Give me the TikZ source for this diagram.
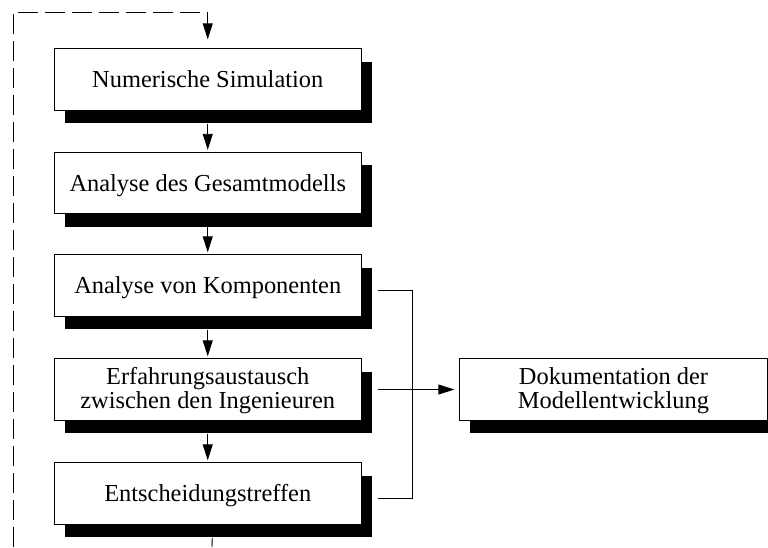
\documentclass[tikz,border=0pt]{standalone}
\usepackage{fontspec}
\setmainfont{Liberation Serif}
\usetikzlibrary{arrows.meta,shadows,calc}

\begin{document}
\begin{tikzpicture}[x=1pt,y=-1pt,
  box/.style={draw,fill=white,line width=0.9pt,minimum width=307.5pt,minimum height=61.5pt,
    inner sep=0pt,font=\fontsize{24.4}{24}\selectfont,align=center,
    text height=16.1pt,text depth=0pt,
    drop shadow={shadow xshift=10.5pt,shadow yshift=-13pt,fill=black,opacity=1}},
  twoline/.style={text height=40.1pt,text depth=3pt},
  flow/.style={line width=0.9pt,-{Triangle[length=16pt,width=10pt]}},
  link/.style={line width=0.9pt},
  loopback/.style={flow,dash pattern=on 20pt off 7pt}]
  \useasboundingbox (0,0) rectangle (768,547);

  % process chain
  \node[box] (a) at (207.75,79.5)  {Numerische Simulation};
  \node[box] (b) at (207.75,183)   {Analyse des Gesamtmodells};
  \node[box] (c) at (207.75,285.5) {Analyse von Komponenten};
  \node[box,twoline] (d) at (207.75,389.5) {Erfahrungsaustausch\\zwischen den Ingenieuren};
  \node[box] (e) at (207.75,493.5) {Entscheidungstreffen};
  \node[box,twoline] (f) at (613.5,389.5) {Dokumentation der\\Modellentwicklung};

  % downward flow
  \draw[flow] ([yshift=-13pt]a.south) -- ([yshift=2pt]b.north);
  \draw[flow] ([yshift=-13pt]b.south) -- ([yshift=2pt]c.north);
  \draw[flow] ([yshift=-13pt]c.south) -- ([yshift=2pt]d.north);
  \draw[flow] ([yshift=-13pt]d.south) -- ([yshift=2pt]e.north);
  \coordinate (out) at (212,547);
  \draw[link] ([xshift=4.5pt,yshift=-13pt]e.south) -- (out);

  % feedback loop back to the simulation
  \coordinate (loopstart) at (13,547);
  \draw[loopback] (loopstart) |- ($(a.north)+(0,-36)$) -- ([yshift=9pt]a.north);

  % links to the documentation
  \coordinate (c3) at ([xshift=16pt,yshift=-4.5pt]c.east);
  \coordinate (e3) at ([xshift=16pt,yshift=-4.5pt]e.east);
  \draw[link] (c3) -- ++(34,0) |- (e3);
  \draw[flow] ([xshift=16pt]d.east) -- ([xshift=-5pt]f.west);
\end{tikzpicture}
\end{document}
